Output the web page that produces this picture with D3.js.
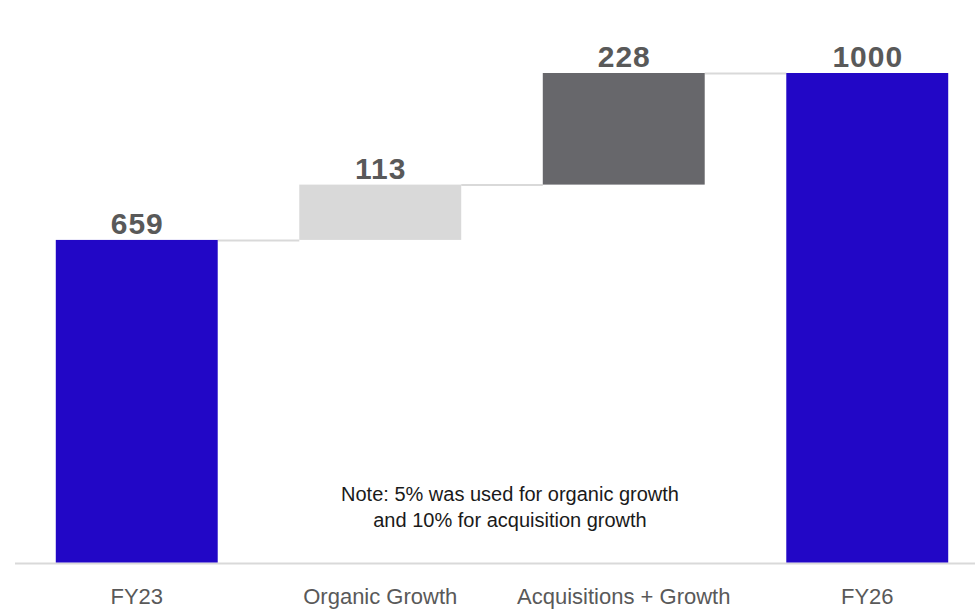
<!DOCTYPE html>
<html>
<head>
<meta charset="utf-8">
<script src="https://cdn.jsdelivr.net/npm/d3@7"></script>
<style>
  html, body { margin: 0; padding: 0; background: #ffffff; }
  svg { display: block; }
  text { font-family: "Liberation Sans", Arial, sans-serif; }
</style>
</head>
<body>
<svg id="chart" width="975" height="609"></svg>
<script>
// Waterfall: FY23 base, two growth steps, FY26 total
const categories = ["FY23", "Organic Growth", "Acquisitions + Growth", "FY26"];
const values = [659, 113, 228, 1000];
const kinds = ["total", "step", "step", "total"];
const barColors = ["#2207C6", "#D9D9D9", "#67676B", "#2207C6"];
const noteLines = ["Note: 5% was used for organic growth", "and 10% for acquisition growth"];

const W = 975, H = 609;
const svg = d3.select("#chart");

// Running totals give each bar its start and end
let running = 0;
const bars = categories.map((c, i) => {
  let y0, y1;
  if (kinds[i] === "total") { y0 = 0; y1 = values[i]; running = values[i]; }
  else { y0 = running; y1 = running + values[i]; running = y1; }
  return { cat: c, value: values[i], y0, y1, color: barColors[i] };
});

const pad = 0.335;
const x = d3.scaleBand()
  .domain(categories)
  .range([15, 989])
  .paddingInner(pad)
  .paddingOuter(pad / 2);

const y = d3.scaleLinear()
  .domain([0, 1000])
  .range([562.5, 73]);

// baseline rule
svg.append("line")
  .attr("x1", x.range()[0]).attr("x2", W)
  .attr("y1", y(0) + 1).attr("y2", y(0) + 1)
  .attr("stroke", "#D9D9D9").attr("stroke-width", 2);

// connectors between consecutive bar tops
svg.append("g").selectAll("line")
  .data(bars.slice(0, -1))
  .join("line")
  .attr("x1", (d) => x(d.cat) + x.bandwidth())
  .attr("x2", (d, i) => x(bars[i + 1].cat))
  .attr("y1", (d) => y(d.y1) + 0.5)
  .attr("y2", (d) => y(d.y1) + 0.5)
  .attr("stroke", "#D9D9D9").attr("stroke-width", 2);

// bars
svg.append("g").selectAll("rect")
  .data(bars)
  .join("rect")
  .attr("x", (d) => x(d.cat))
  .attr("width", x.bandwidth())
  .attr("y", (d) => y(d.y1))
  .attr("height", (d) => y(d.y0) - y(d.y1))
  .attr("fill", (d) => d.color);

// value labels
svg.append("g").selectAll("text")
  .data(bars)
  .join("text")
  .attr("x", (d) => x(d.cat) + x.bandwidth() / 2 + 0.5)
  .attr("y", (d) => y(d.y1) - 6)
  .attr("text-anchor", "middle")
  .attr("font-size", 30)
  .attr("font-weight", 700)
  .attr("letter-spacing", 1)
  .attr("fill", "#595959")
  .text((d) => d.value);

// category axis
const xAxis = d3.axisBottom(x).tickSize(0).tickPadding(0);
const gx = svg.append("g")
  .attr("transform", `translate(0, ${H - 5})`)
  .call(xAxis);
gx.select(".domain").remove();
gx.selectAll("text")
  .attr("dy", 0)
  .attr("y", 0)
  .attr("font-size", 22)
  .attr("font-family", "\"Liberation Sans\", Arial, sans-serif")
  .attr("fill", "#595959");

// note
svg.append("text")
  .attr("x", 510)
  .attr("y", 501)
  .attr("text-anchor", "middle")
  .attr("font-size", 20)
  .attr("fill", "#1a1a1a")
  .selectAll("tspan")
  .data(noteLines)
  .join("tspan")
  .attr("x", 510)
  .attr("dy", (d, i) => (i === 0 ? 0 : 26))
  .text((d) => d);
</script>
</body>
</html>
